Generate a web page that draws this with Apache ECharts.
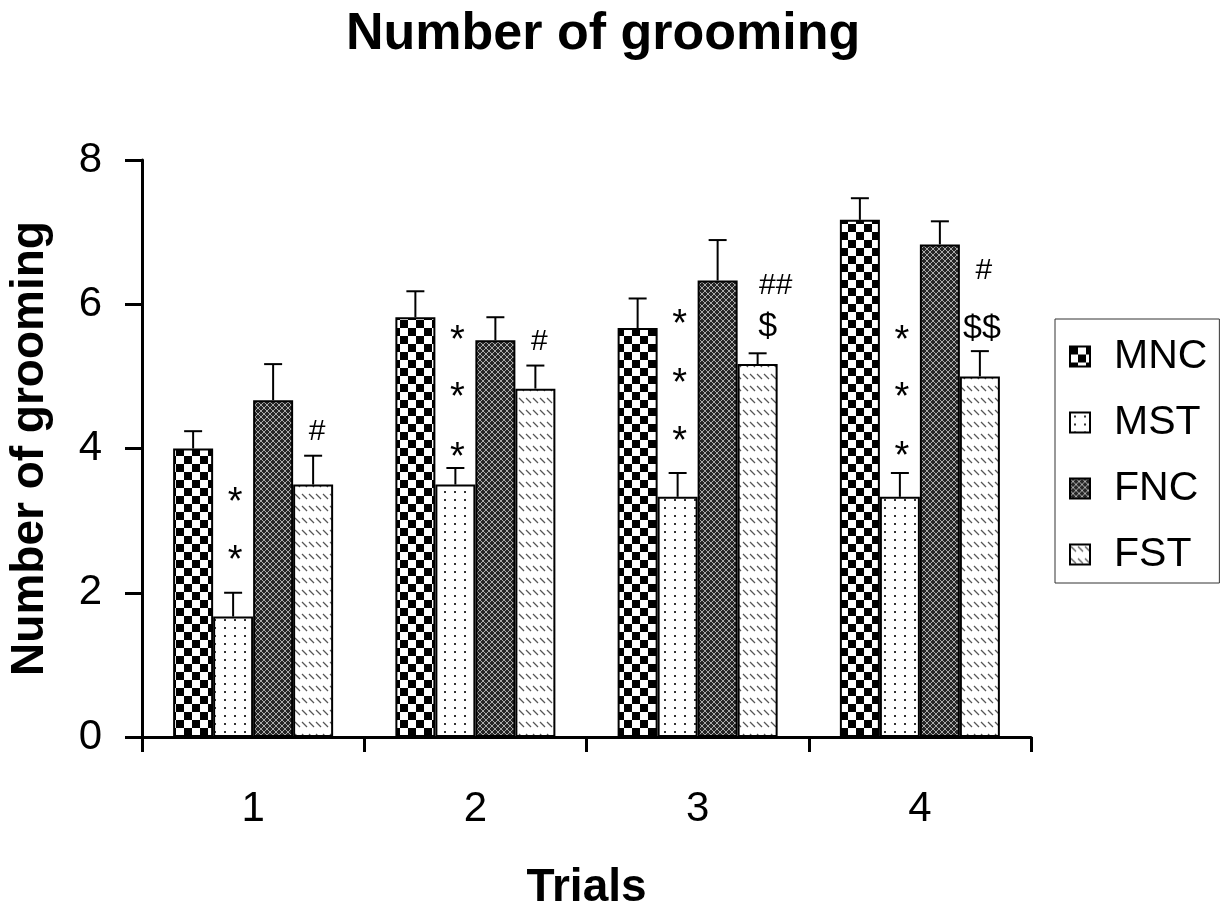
<!DOCTYPE html>
<html>
<head>
<meta charset="utf-8">
<title>Number of grooming</title>
<script src="https://cdn.jsdelivr.net/npm/echarts@6/dist/echarts.min.js"></script>
<style>
    html, body { margin: 0; padding: 0; background: #fff; }
    #chart { width: 1226px; height: 907px; }
</style>
</head>
<body>
<div id="chart"></div>
<script>
    // data (mean + upper SEM per trial)
    const trials = ['1', '2', '3', '4'];
    const groups = ['MNC', 'MST', 'FNC', 'FST'];
    const mncMean = [4.0, 5.82, 5.67, 7.17];
    const mstMean = [1.67, 3.5, 3.33, 3.33];
    const fncMean = [4.67, 5.5, 6.33, 6.83];
    const fstMean = [3.5, 4.83, 5.17, 5.0];
    const mncErr = [0.24, 0.36, 0.41, 0.30];
    const mstErr = [0.33, 0.23, 0.33, 0.33];
    const fncErr = [0.50, 0.32, 0.56, 0.32];
    const fstErr = [0.40, 0.32, 0.15, 0.35];

    // significance marks: [trial index, group index, y value, text]
    const sigMarks = [
        [0, 1, 3.35, '*'], [0, 1, 2.55, '*'], [0, 3, 4.23, '#'],
        [1, 1, 5.59, '*'], [1, 1, 4.80, '*'], [1, 1, 3.97, '*'], [1, 3, 5.48, '#'],
        [2, 1, 5.81, '*'], [2, 1, 5.00, '*'], [2, 1, 4.19, '*'], [2, 3, 6.26, '##'], [2, 3, 5.69, '$'],
        [3, 1, 5.59, '*'], [3, 1, 4.81, '*'], [3, 1, 3.98, '*'], [3, 3, 6.46, '#'], [3, 3, 5.66, '$$']
    ];

    const FONT = "'Liberation Sans', Arial, sans-serif";
    const barW = 40;
    // small horizontal nudges of the mark text, like in the original figure
    const markNudge = { '*': 2, '#': 4, '##': 18, '$': 10, '$$': 2 };
    const markSize = { '*': 38, '#': 30, '##': 30, '$': 34, '$$': 34 };

    function makePattern(w, h, draw) {
        let c = document.createElement('canvas');
        c.width = w;
        c.height = h;
        let ctx = c.getContext('2d');
        ctx.fillStyle = '#fff';
        ctx.fillRect(0, 0, w, h);
        draw(ctx);
        return { image: c, repeat: 'repeat' };
    }

    // checkerboard
    let mncFill = makePattern(16, 16, ctx => {
        ctx.fillStyle = '#000';
        ctx.fillRect(0, 0, 8, 8);
        ctx.fillRect(8, 8, 8, 8);
    });
    // sparse dots
    let mstFill = makePattern(10, 8, ctx => {
        ctx.fillStyle = '#333';
        ctx.fillRect(4, 3, 2, 2);
    });
    // dark crosshatch with light dots
    let fncFill = makePattern(6, 6, ctx => {
        ctx.fillStyle = '#262626';
        ctx.fillRect(0, 0, 6, 6);
        ctx.fillStyle = '#aaaaaa';
        for (let i = 0; i < 6; i++) {
            ctx.fillRect(i, i, 1, 1);
            ctx.fillRect(5 - i, i, 1, 1);
        }
    });
    // short diagonal dashes
    let fstFill = makePattern(7, 12, ctx => {
        ctx.strokeStyle = '#555';
        ctx.lineWidth = 1.2;
        ctx.beginPath();
        ctx.moveTo(1, 2);
        ctx.lineTo(6, 7);
        ctx.stroke();
    });

    let means = [mncMean, mstMean, fncMean, fstMean];
    let errs = [mncErr, mstErr, fncErr, fstErr];
    let fills = [mncFill, mstFill, fncFill, fstFill];

    let errData = [];
    means.forEach((arr, s) => {
        arr.forEach((v, i) => {
            errData.push([i, v, errs[s][i], s]);
        });
    });

    let barSeries = groups.map((name, s) => ({
        name: name,
        type: 'bar',
        barWidth: barW,
        barGap: '0%',
        data: means[s],
        itemStyle: {
            color: fills[s],
            borderColor: '#000',
            borderWidth: 2
        }
    }));

    let chart = echarts.init(document.getElementById('chart'));
    chart.setOption({
        animation: false,
        backgroundColor: '#fff',
        title: {
            text: 'Number of grooming',
            left: 341,
            top: 4,
            textStyle: { fontFamily: FONT, fontSize: 52, fontWeight: 'bold', color: '#000' }
        },
        legend: {
            orient: 'vertical',
            left: 1055,
            top: 319,
            padding: [17, 12, 8, 14],
            itemWidth: 20,
            itemHeight: 20,
            itemGap: 25,
            borderColor: '#333',
            borderWidth: 1,
            icon: 'rect',
            data: groups,
            textStyle: { fontFamily: FONT, fontSize: 41, color: '#000', padding: [0, 0, 0, 19] }
        },
        grid: {
            left: 142,
            right: 195,
            top: 160,
            bottom: 170,
            // keep the plot box where it is, names may reach the page edge
            outerBoundsMode: 'none'
        },
        xAxis: {
            type: 'category',
            data: trials,
            name: 'Trials',
            nameLocation: 'middle',
            nameGap: 128,
            nameTextStyle: { fontFamily: FONT, fontSize: 46, fontWeight: 'bold', color: '#000' },
            axisLine: { lineStyle: { color: '#000', width: 3 } },
            axisTick: { show: true, interval: 0, length: 15, lineStyle: { color: '#000', width: 3 } },
            axisLabel: { fontFamily: FONT, fontSize: 42, color: '#000', margin: 51 }
        },
        yAxis: {
            type: 'value',
            min: 0,
            max: 8,
            interval: 2,
            name: 'Number of grooming',
            nameLocation: 'middle',
            nameGap: 89,
            nameTextStyle: { fontFamily: FONT, fontSize: 46, fontWeight: 'bold', color: '#000' },
            splitLine: { show: false },
            axisLine: { show: true, lineStyle: { color: '#000', width: 3 } },
            axisTick: { show: true, length: 17, lineStyle: { color: '#000', width: 3 } },
            axisLabel: { fontFamily: FONT, fontSize: 42, color: '#000', margin: 40 }
        },
        series: barSeries.concat([
            {
                name: 'sem',
                type: 'custom',
                z: 5,
                data: errData,
                encode: { x: 0, y: 1 },
                renderItem: function (params, api) {
                    let cat = api.value(0);
                    let mean = api.value(1);
                    let err = api.value(2);
                    let s = api.value(3);
                    let base = api.coord([cat, mean]);
                    let top = api.coord([cat, mean + err]);
                    let x = base[0] + (s - 1.5) * barW;
                    return {
                        type: 'group',
                        children: [
                            { type: 'line', shape: { x1: x, y1: base[1], x2: x, y2: top[1] }, style: { stroke: '#000', lineWidth: 2 } },
                            { type: 'line', shape: { x1: x - 9, y1: top[1], x2: x + 9, y2: top[1] }, style: { stroke: '#000', lineWidth: 2 } }
                        ]
                    };
                }
            },
            {
                name: 'marks',
                type: 'custom',
                z: 6,
                data: sigMarks.map(m => [m[0], m[2], m[1], m[3]]),
                encode: { x: 0, y: 1 },
                renderItem: function (params, api) {
                    let m = sigMarks[params.dataIndex];
                    let p = api.coord([m[0], m[2]]);
                    let isStar = m[3] === '*';
                    return {
                        type: 'text',
                        x: p[0] + (m[1] - 1.5) * barW + (markNudge[m[3]] || 0),
                        y: p[1] + (isStar ? 8 : 0),
                        style: {
                            text: m[3],
                            fontFamily: FONT,
                            fontSize: markSize[m[3]] || 30,
                            fill: '#000',
                            align: 'center',
                            verticalAlign: 'middle'
                        }
                    };
                }
            }
        ])
    });
</script>
</body>
</html>
